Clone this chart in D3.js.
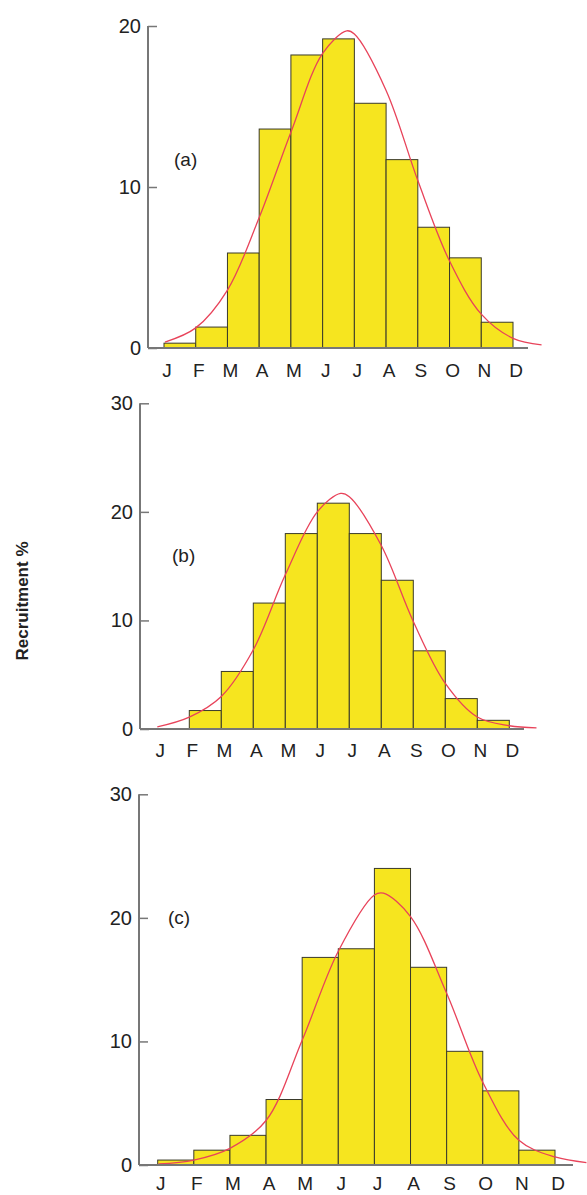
<!DOCTYPE html>
<html>
<head>
<meta charset="utf-8">
<script src="https://cdn.jsdelivr.net/npm/d3@7"></script>
<style>
  html, body { margin: 0; padding: 0; background: #fff; }
  svg { display: block; }
  text { font-family: "Liberation Sans", Arial, sans-serif; fill: #222; }
</style>
</head>
<body>
<svg id="chart" width="587" height="1195"></svg>
<script>
// Month labels along each x axis
const months = ["J", "F", "M", "A", "M", "J", "J", "A", "S", "O", "N", "D"];

// Monthly recruitment (%) — bar i spans month i to month i+1
const barsA = [0.3, 1.3, 5.9, 13.6, 18.2, 19.2, 15.2, 11.7, 7.5, 5.6, 1.6];
const barsB = [0, 1.7, 5.3, 11.6, 18.0, 20.8, 18.0, 13.7, 7.2, 2.8, 0.8];
const barsC = [0.4, 1.2, 2.4, 5.3, 16.8, 17.5, 24.0, 16.0, 9.2, 6.0, 1.2];

// Fitted curves: positions (in months) and values (%)
const curveAx = [0.03, 1, 2, 3, 4, 5, 5.76, 6, 7, 8, 9, 10, 11, 11.9];
const curveAy = [0.37, 1.25, 3.6, 8.1, 13.4, 18.3, 19.7, 19.5, 16.0, 10.4, 5.4, 2.1, 0.6, 0.2];
const curveBx = [0.0, 1, 2, 3, 4, 5, 5.73, 6, 7, 8, 9, 10, 11, 11.85];
const curveBy = [0.2, 1.1, 3.0, 7.3, 14.2, 20.0, 21.7, 21.4, 16.9, 9.9, 4.2, 1.1, 0.3, 0.1];
const curveCx = [0.02, 1, 2, 3, 4, 5, 6, 6.25, 7, 8, 9, 10, 11, 11.87];
const curveCy = [0.08, 0.4, 1.35, 3.6, 10.1, 17.3, 21.85, 22.0, 20.1, 13.9, 6.7, 2.0, 0.65, 0.2];

// Y-axis tick values per panel
const ticksA = [0, 10, 20];
const ticksBC = [0, 10, 20, 30];

const svg = d3.select("#chart");

const panels = [
  { tag: "(a)", bars: barsA, cx: curveAx, cy: curveAy, ticks: ticksA, yMax: 20,
    axisX: 148, axisEnd: 528, x0: 164, x1: 513, yBottom: 348, yTop: 26,
    labelY: 377, tagX: 174, tagY: 166 },
  { tag: "(b)", bars: barsB, cx: curveBx, cy: curveBy, ticks: ticksBC, yMax: 30,
    axisX: 140, axisEnd: 524, x0: 157.3, x1: 509.3, yBottom: 729, yTop: 403.3,
    labelY: 757, tagX: 172, tagY: 562 },
  { tag: "(c)", bars: barsC, cx: curveCx, cy: curveCy, ticks: ticksBC, yMax: 30,
    axisX: 139, axisEnd: 573, x0: 157.7, x1: 555, yBottom: 1165, yTop: 794.3,
    labelY: 1190, tagX: 168, tagY: 924 }
];

panels.forEach(p => {
  const g = svg.append("g");
  const x = d3.scaleLinear().domain([0, 11]).range([p.x0, p.x1]);
  const y = d3.scaleLinear().domain([0, p.yMax]).range([p.yBottom, p.yTop]);

  // Bars
  g.selectAll("rect.bar")
    .data(p.bars.map((v, i) => ({ v, i })).filter(d => d.v > 0))
    .join("rect")
    .attr("class", "bar")
    .attr("x", d => x(d.i))
    .attr("width", d => x(d.i + 1) - x(d.i))
    .attr("y", d => y(d.v))
    .attr("height", d => y(0) - y(d.v))
    .attr("fill", "#f6e51f")
    .attr("stroke", "#3a3a2a")
    .attr("stroke-width", 1);

  // Fitted curve
  const pts = p.cx.map((m, i) => [x(m), y(p.cy[i])]);
  g.append("path")
    .attr("d", d3.line().curve(d3.curveCatmullRom.alpha(0.5))(pts))
    .attr("fill", "none")
    .attr("stroke", "#e8435a")
    .attr("stroke-width", 1.3);

  // Y axis with inward ticks
  const yAxis = g.append("g")
    .attr("transform", `translate(${p.axisX},0)`)
    .call(d3.axisLeft(y).tickValues(p.ticks).tickSize(-9).tickPadding(7).tickFormat(d3.format("d")));
  yAxis.select(".domain").remove();
  yAxis.selectAll(".tick line").attr("stroke", "#777").attr("stroke-width", 1.5);
  yAxis.selectAll(".tick text")
    .attr("font-size", 20)
    .attr("fill", "#222")
    .style("font-family", "'Liberation Sans', Arial, sans-serif");

  // Axis lines
  g.append("line")
    .attr("x1", p.axisX).attr("x2", p.axisX)
    .attr("y1", y(p.yMax)).attr("y2", y(0))
    .attr("stroke", "#777").attr("stroke-width", 2);
  g.append("line")
    .attr("x1", p.axisX).attr("x2", p.axisEnd)
    .attr("y1", y(0)).attr("y2", y(0))
    .attr("stroke", "#777").attr("stroke-width", 2);

  // Month labels
  g.selectAll("text.month")
    .data(months)
    .join("text")
    .attr("class", "month")
    .attr("x", (d, i) => x(i) + 3)
    .attr("y", p.labelY)
    .attr("text-anchor", "middle")
    .attr("font-size", 19)
    .text(d => d);

  // Panel tag
  g.append("text")
    .attr("x", p.tagX)
    .attr("y", p.tagY)
    .attr("font-size", 19)
    .text(p.tag);
});

// Shared y-axis title
svg.append("text")
  .attr("transform", "translate(28,601) rotate(-90)")
  .attr("text-anchor", "middle")
  .attr("font-size", 17)
  .attr("font-weight", "bold")
  .text("Recruitment %");
</script>
</body>
</html>
